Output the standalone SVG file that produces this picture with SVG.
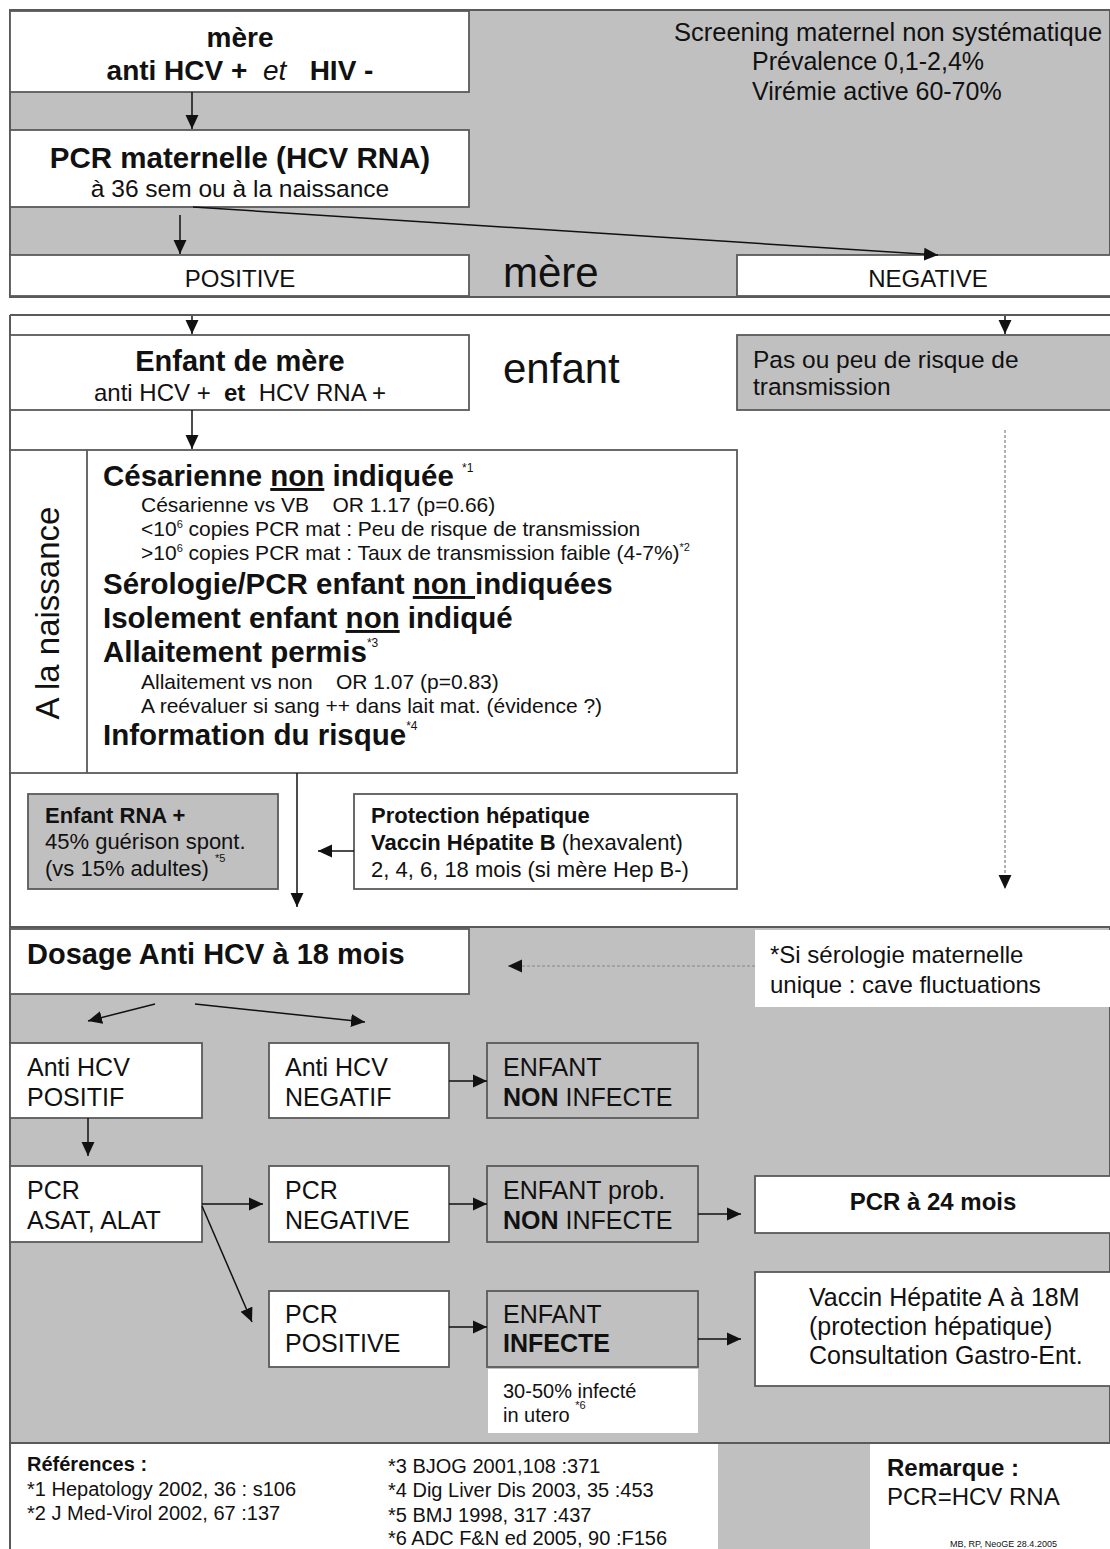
<svg xmlns="http://www.w3.org/2000/svg" width="1110" height="1549" viewBox="0 0 1110 1549" xml:space="preserve">
<style>
.box{fill:#fff;stroke:#5a5a5a;stroke-width:1.8}
.gbox{fill:#c0c0c0;stroke:#5a5a5a;stroke-width:1.8}
.wb{fill:#fff;stroke:none}
text{font-family:"Liberation Sans",Arial,sans-serif;fill:#111;white-space:pre}
.b{font-weight:bold}
.c{text-anchor:middle}
.conn line{stroke:#111;stroke-width:1.5;fill:none}
.conn line.dot{stroke:#999;stroke-width:1.5;stroke-dasharray:3 2}
.sec{stroke:#5a5a5a;stroke-width:2}
.sup{font-size:12px;font-weight:normal}
</style>
<defs>
<marker id="ah" markerUnits="userSpaceOnUse" markerWidth="14" markerHeight="14" viewBox="0 0 13 12" refX="13" refY="6" orient="auto">
<path d="M0,0 L13,6 L0,12 z" fill="#111"/>
</marker>
</defs>
<rect width="1110" height="1549" fill="#fff"/>

<g id="sections">
<rect x="10" y="10" width="1100" height="287" fill="#c0c0c0" class="sec"/>
<line x1="10" y1="315" x2="1110" y2="315" class="sec"/>
<line x1="10" y1="315" x2="10" y2="1549" class="sec"/>
<rect x="10" y="927" width="1100" height="516" fill="#c0c0c0" class="sec"/>
<rect x="718" y="1444" width="152" height="105" fill="#c0c0c0"/>
</g>

<g id="n-mere">
<rect x="10" y="11" width="459" height="81" class="box"/>
<text x="240" y="47" class="b c" font-size="28">mère</text>
<text x="240" y="80" class="c" font-size="28"><tspan class="b">anti HCV +  </tspan><tspan font-style="italic">et</tspan><tspan class="b">   HIV -</tspan></text>
</g>

<g id="n-screening">
<text x="674" y="41" font-size="25.5">Screening maternel non systématique</text>
<text x="752" y="70" font-size="25">Prévalence 0,1-2,4%</text>
<text x="752" y="100" font-size="25">Virémie active 60-70%</text>
</g>

<g id="n-pcrmat">
<rect x="10" y="130" width="459" height="77" class="box"/>
<text x="240" y="168" class="b c" font-size="29.5">PCR maternelle (HCV RNA)</text>
<text x="240" y="197" class="c" font-size="24.5">à 36 sem ou à la naissance</text>
</g>

<g id="n-positive">
<rect x="10" y="255" width="459" height="41" class="box"/>
<text x="240" y="287" class="c" font-size="24">POSITIVE</text>
</g>
<g id="n-label-mere"><text x="503" y="287" font-size="42">mère</text></g>
<g id="n-negative">
<rect x="737" y="255" width="380" height="41" class="box"/>
<text x="928" y="287" class="c" font-size="24">NEGATIVE</text>
</g>

<g id="n-enfantmere">
<rect x="10" y="335" width="459" height="75" class="box"/>
<text x="240" y="371" class="b c" font-size="29">Enfant de mère</text>
<text x="240" y="401" class="c" font-size="24">anti HCV +  <tspan class="b">et</tspan>  HCV RNA +</text>
</g>
<g id="n-label-enfant"><text x="503" y="383" font-size="42">enfant</text></g>
<g id="n-peu">
<rect x="737" y="335" width="380" height="75" class="gbox"/>
<text x="753" y="368" font-size="24.5">Pas ou peu de risque de</text>
<text x="753" y="395" font-size="24.5">transmission</text>
</g>

<g id="n-naissance">
<rect x="10" y="450" width="727" height="323" class="box"/>
<line x1="87" y1="450" x2="87" y2="773" stroke="#5a5a5a" stroke-width="1.8"/>
<text transform="translate(59,613) rotate(-90)" class="c" font-size="33">A la naissance</text>
<text x="103" y="486" class="b" font-size="29.5">Césarienne <tspan text-decoration="underline">non</tspan> indiquée <tspan class="sup" dy="-14">*1</tspan></text>
<text x="141" y="512" font-size="21">Césarienne vs VB    OR 1.17 (p=0.66)</text>
<text x="141" y="536" font-size="21">&lt;10<tspan font-size="11" dy="-8">6</tspan><tspan dy="8"> copies PCR mat : Peu de risque de transmission</tspan></text>
<text x="141" y="560" font-size="21">&gt;10<tspan font-size="11" dy="-8">6</tspan><tspan dy="8"> copies PCR mat : Taux de transmission faible (4-7%)</tspan><tspan font-size="11" dy="-9">*2</tspan></text>
<text x="103" y="594" class="b" font-size="29.5">Sérologie/PCR enfant <tspan text-decoration="underline">non </tspan>indiquées</text>
<text x="103" y="628" class="b" font-size="29.5">Isolement enfant <tspan text-decoration="underline">non</tspan> indiqué</text>
<text x="103" y="662" class="b" font-size="29.5">Allaitement permis<tspan class="sup" dy="-15">*3</tspan></text>
<text x="141" y="689" font-size="21">Allaitement vs non    OR 1.07 (p=0.83)</text>
<text x="141" y="713" font-size="21">A reévaluer si sang ++ dans lait mat. (évidence ?)</text>
<text x="103" y="745" class="b" font-size="29.5">Information du risque<tspan class="sup" dy="-15">*4</tspan></text>
</g>

<g id="n-rna">
<rect x="28" y="794" width="250" height="95" class="gbox"/>
<text x="45" y="823" class="b" font-size="22">Enfant RNA +</text>
<text x="45" y="849" font-size="22">45% guérison spont.</text>
<text x="45" y="876" font-size="22">(vs 15% adultes) <tspan font-size="11" dy="-14">*5</tspan></text>
</g>

<g id="n-protection">
<rect x="354" y="794" width="383" height="95" class="box"/>
<text x="371" y="823" class="b" font-size="22">Protection hépatique</text>
<text x="371" y="850" font-size="22"><tspan class="b">Vaccin Hépatite B</tspan> (hexavalent)</text>
<text x="371" y="877" font-size="22">2, 4, 6, 18 mois (si mère Hep B-)</text>
</g>

<g id="n-dosage">
<rect x="10" y="929" width="459" height="65" class="box"/>
<text x="27" y="964" class="b" font-size="29">Dosage Anti HCV à 18 mois</text>
</g>
<g id="n-sero">
<rect x="755" y="930" width="360" height="77" class="wb"/>
<text x="770" y="963" font-size="24">*Si sérologie maternelle</text>
<text x="770" y="993" font-size="24">unique : cave fluctuations</text>
</g>

<g id="n-antipos">
<rect x="10" y="1043" width="192" height="75" class="box"/>
<text x="27" y="1076" font-size="25">Anti HCV</text>
<text x="27" y="1106" font-size="25">POSITIF</text>
</g>
<g id="n-antineg">
<rect x="269" y="1043" width="180" height="75" class="box"/>
<text x="285" y="1076" font-size="25">Anti HCV</text>
<text x="285" y="1106" font-size="25">NEGATIF</text>
</g>
<g id="n-noninf">
<rect x="487" y="1043" width="211" height="75" class="gbox"/>
<text x="503" y="1076" font-size="25">ENFANT</text>
<text x="503" y="1106" font-size="25"><tspan class="b">NON</tspan> INFECTE</text>
</g>

<g id="n-pcrasat">
<rect x="10" y="1166" width="192" height="76" class="box"/>
<text x="27" y="1199" font-size="25">PCR</text>
<text x="27" y="1229" font-size="25">ASAT, ALAT</text>
</g>
<g id="n-pcrneg">
<rect x="269" y="1166" width="180" height="76" class="box"/>
<text x="285" y="1199" font-size="25">PCR</text>
<text x="285" y="1229" font-size="25">NEGATIVE</text>
</g>
<g id="n-prob">
<rect x="487" y="1166" width="211" height="76" class="gbox"/>
<text x="503" y="1199" font-size="25">ENFANT prob.</text>
<text x="503" y="1229" font-size="25"><tspan class="b">NON</tspan> INFECTE</text>
</g>
<g id="n-pcr24">
<rect x="755" y="1176" width="360" height="57" class="box"/>
<text x="933" y="1210" class="b c" font-size="24">PCR à 24 mois</text>
</g>

<g id="n-pcrpos">
<rect x="269" y="1291" width="180" height="76" class="box"/>
<text x="285" y="1323" font-size="25">PCR</text>
<text x="285" y="1352" font-size="25">POSITIVE</text>
</g>
<g id="n-infecte">
<rect x="487" y="1291" width="211" height="76" class="gbox"/>
<text x="503" y="1323" font-size="25">ENFANT</text>
<text x="503" y="1352" class="b" font-size="25">INFECTE</text>
</g>
<g id="n-vaccina">
<rect x="755" y="1272" width="360" height="114" class="box"/>
<text x="809" y="1306" font-size="25">Vaccin Hépatite A à 18M</text>
<text x="809" y="1335" font-size="25">(protection hépatique)</text>
<text x="809" y="1364" font-size="25">Consultation Gastro-Ent.</text>
</g>
<g id="n-utero">
<rect x="488" y="1369" width="210" height="64" class="wb"/>
<text x="503" y="1398" font-size="20">30-50% infecté</text>
<text x="503" y="1422" font-size="20">in utero <tspan font-size="11" dy="-13">*6</tspan></text>
</g>

<g id="n-refs">
<text x="27" y="1471" class="b" font-size="20">Références :</text>
<text x="27" y="1496" font-size="20">*1 Hepatology 2002, 36 : s106</text>
<text x="27" y="1520" font-size="20">*2 J Med-Virol 2002, 67 :137</text>
<text x="388" y="1473" font-size="20">*3 BJOG 2001,108 :371</text>
<text x="388" y="1497" font-size="20">*4 Dig Liver Dis 2003, 35 :453</text>
<text x="388" y="1522" font-size="20">*5 BMJ 1998, 317 :437</text>
<text x="388" y="1545" font-size="20">*6 ADC F&amp;N ed 2005, 90 :F156</text>
</g>
<g id="n-remarque">
<text x="887" y="1476" class="b" font-size="24">Remarque :</text>
<text x="887" y="1505" font-size="24">PCR=HCV RNA</text>
<text x="950" y="1547" font-size="9">MB, RP, NeoGE 28.4.2005</text>
</g>

<g class="conn" id="connectors">
<line x1="192" y1="92" x2="192" y2="129" marker-end="url(#ah)"/>
<line x1="180" y1="215" x2="180" y2="254" marker-end="url(#ah)"/>
<line x1="193" y1="207" x2="938" y2="255" marker-end="url(#ah)"/>
<line x1="192" y1="316" x2="192" y2="334" marker-end="url(#ah)"/>
<line x1="1005" y1="316" x2="1005" y2="334" marker-end="url(#ah)"/>
<line x1="192" y1="410" x2="192" y2="449" marker-end="url(#ah)"/>
<line x1="1005" y1="430" x2="1005" y2="889" class="dot" marker-end="url(#ah)"/>
<line x1="297" y1="773" x2="297" y2="907" marker-end="url(#ah)"/>
<line x1="354" y1="851" x2="318" y2="851" marker-end="url(#ah)"/>
<line x1="755" y1="966" x2="508" y2="966" class="dot" marker-end="url(#ah)"/>
<line x1="155" y1="1004" x2="88" y2="1021" marker-end="url(#ah)"/>
<line x1="195" y1="1004" x2="365" y2="1022" marker-end="url(#ah)"/>
<line x1="449" y1="1081" x2="487" y2="1081" marker-end="url(#ah)"/>
<line x1="88" y1="1118" x2="88" y2="1156" marker-end="url(#ah)"/>
<line x1="202" y1="1204" x2="263" y2="1204" marker-end="url(#ah)"/>
<line x1="449" y1="1204" x2="487" y2="1204" marker-end="url(#ah)"/>
<line x1="698" y1="1214" x2="741" y2="1214" marker-end="url(#ah)"/>
<line x1="202" y1="1206" x2="252" y2="1322" marker-end="url(#ah)"/>
<line x1="449" y1="1327" x2="487" y2="1327" marker-end="url(#ah)"/>
<line x1="698" y1="1339" x2="741" y2="1339" marker-end="url(#ah)"/>
</g>
</svg>
